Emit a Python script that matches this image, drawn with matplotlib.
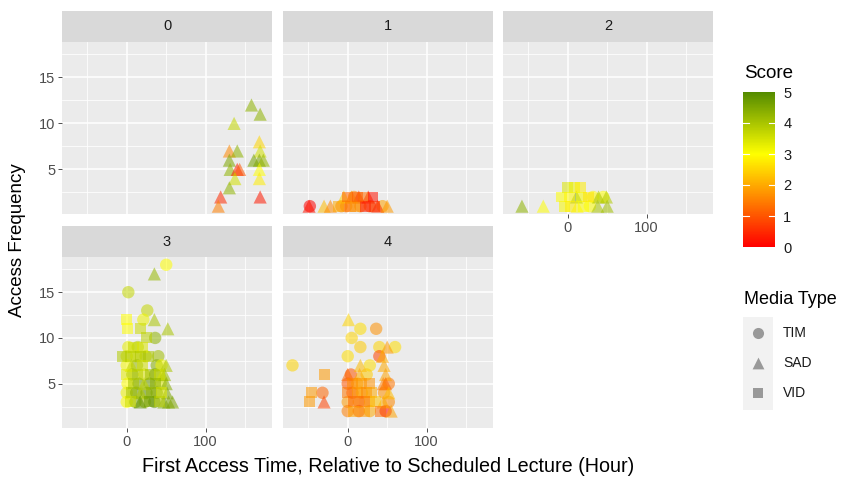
import matplotlib
matplotlib.use('Agg')
import matplotlib.pyplot as plt
from matplotlib.colors import LinearSegmentedColormap, Normalize
from matplotlib.cm import ScalarMappable
from matplotlib.patches import Rectangle

plt.rcParams['font.family'] = ['Liberation Sans', 'DejaVu Sans']

# ---- data: one set of lists per cluster (facet) ----
# cluster 0 (all SAD)
c0_x = [158, 169, 136, 168, 130, 140, 169, 130, 161, 168, 173, 131, 140, 143,
        168, 168, 137, 130, 119, 169, 116]
c0_y = [12, 11, 10, 8, 7, 7, 7, 6, 6, 6, 6, 5, 5, 5, 5, 4, 4, 3, 2, 2, 1]
c0_score = [4.3, 4.3, 3.7, 2.5, 1.6, 4.3, 3.5, 4.5, 4.6, 4.5, 4.2, 4.3, 0.4, 1.0,
            3.0, 2.8, 3.5, 4.3, 0.5, 0.3, 1.5]
c0_media = ["SAD"] * len(c0_x)

# cluster 1
c1_x = [-49, -48, -30, -22, -12, -5, -8, 0, 3, 8, 10, 14, 16, 20, 22, 26, 28,
        32, 34, 38, 5, 44, 50, -2, 12]
c1_y = [1, 1, 1, 1, 1, 2, 1, 2, 1, 2, 1, 2, 1, 2, 1, 2, 1, 2, 1, 1, 2, 1, 1, 1, 2]
c1_score = [0.2, 0.0, 2.2, 1.6, 2.0, 2.4, 1.5, 1.2, 1.4, 1.6, 1.8, 0.6, 1.5, 1.3,
            0.3, 0.4, 1.0, 0.2, 0.6, 0.5, 1.8, 1.9, 1.8, 1.4, 1.1]
c1_media = ["SAD", "TIM", "SAD", "SAD", "VID", "SAD", "TIM", "VID", "VID", "TIM",
            "VID", "SAD", "TIM", "VID", "VID", "SAD", "TIM", "VID", "VID", "SAD",
            "SAD", "TIM", "SAD", "TIM", "VID"]

# cluster 2
c2_x = [-58, -31, -8, -4, 0, 2, 4, 8, 11, 12, 16, 18, 20, 26, 28, 32, 39, 38,
        49, 50, 45]
c2_y = [1, 1, 2, 1, 3, 2, 1, 3, 2, 1, 3, 2, 1, 2, 1, 2, 2, 1, 2, 1, 2]
c2_score = [4.3, 3.0, 3.0, 3.1, 3.4, 2.9, 2.8, 3.2, 4.4, 2.9, 2.8, 3.1, 3.0, 2.7,
            3.0, 2.9, 4.0, 4.0, 3.9, 4.1, 3.0]
c2_media = ["SAD", "SAD", "VID", "VID", "VID", "VID", "VID", "VID", "SAD", "SAD",
            "VID", "VID", "VID", "VID", "TIM", "TIM", "SAD", "SAD", "SAD", "SAD",
            "TIM"]

# cluster 3
c3_x = [50, 35, 2, 26, 35, 0, 21, 52, 18, 1, 36, 25, -6, 28, 40, 45, 58,
        2, 8, 14, 20,
        0, 5, 12, 18, 24,
        0, 6, 13, 20, 38, 44, 50,
        0, 7, 14, 22, 30, 36, 42, 48,
        1, 8, 15, 22, 29, 36, 43, 50,
        0, 6, 12, 18, 25, 31, 38, 44, 51,
        0, 5, 11, 17, 23, 29, 35, 41, 47, 53]
c3_y = [18, 17, 15, 13, 12, 12, 12, 11, 11, 11, 10, 10, 8, 8, 8, 6, 3,
        9, 9, 9, 9,
        8, 8, 8, 8, 8,
        7, 7, 7, 7, 7, 7, 7,
        6, 6, 6, 6, 6, 6, 6, 6,
        5, 5, 5, 5, 5, 5, 5, 5,
        4, 4, 4, 4, 4, 4, 4, 4, 4,
        3, 3, 3, 3, 3, 3, 3, 3, 3, 3]
c3_score = [3.0, 4.2, 3.7, 3.7, 4.0, 3.0, 3.2, 4.0, 3.6, 3.0, 4.3, 3.8, 3.9, 4.0,
            4.1, 3.4, 4.5,
            3.3, 3.6, 3.8, 3.4,
            3.5, 3.9, 3.2, 4.0, 3.6,
            3.1, 3.7, 4.2, 3.5, 4.4, 3.2, 4.0,
            3.3, 4.5, 3.8, 3.4, 4.1, 4.6, 3.6, 4.2,
            3.0, 4.0, 4.6, 3.7, 4.8, 4.3, 3.5, 4.4,
            3.2, 4.1, 4.7, 3.9, 4.9, 4.2, 4.8, 3.4, 4.5,
            3.0, 3.6, 4.4, 4.9, 4.1, 4.7, 4.9, 3.8, 4.6, 4.5]
c3_media = ["TIM", "SAD", "TIM", "TIM", "SAD", "VID", "TIM", "SAD", "VID", "VID",
            "TIM", "VID", "VID", "VID", "TIM", "SAD", "SAD",
            "TIM", "VID", "TIM", "VID",
            "TIM", "VID", "TIM", "VID", "TIM",
            "TIM", "SAD", "TIM", "VID", "TIM", "TIM", "SAD",
            "VID", "TIM", "VID", "TIM", "VID", "TIM", "VID", "SAD",
            "TIM", "VID", "TIM", "SAD", "TIM", "VID", "TIM", "SAD",
            "TIM", "VID", "TIM", "SAD", "TIM", "VID", "TIM", "VID", "SAD",
            "TIM", "VID", "TIM", "SAD", "TIM", "VID", "TIM", "VID", "SAD", "SAD"]

# cluster 4
c4_x = [-70, -30, -46, -49, -32, -30, 1, 16, 36, 5, 16, 40, 50, 60, 0, 40, 44,
        16, 28, 46, 48, 48, 48,
        0, 4, 15, 24,
        0, 6, 12, 18, 27, 45, 52,
        0, 6, 12, 18, 24, 30, 46, 52,
        0, 7, 14, 21, 28, 35, 45, 52,
        0, 7, 14, 21, 28, 42, 55]
c4_y = [7, 6, 4, 3, 4, 3, 12, 11, 11, 10, 9, 9, 9, 9, 8, 8, 8,
        7, 7, 7, 6, 5, 2,
        6, 6, 6, 6,
        5, 5, 5, 5, 5, 5, 5,
        4, 4, 4, 4, 4, 4, 4, 4,
        3, 3, 3, 3, 3, 3, 3, 3,
        2, 2, 2, 2, 2, 2, 2]
c4_score = [2.5, 1.8, 1.8, 1.8, 1.2, 0.8, 2.5, 2.6, 1.7, 2.5, 2.4, 2.5, 1.8, 2.6,
            2.6, 0.8, 2.0, 2.2, 2.6, 2.0, 1.9, 1.2, 0.0,
            1.2, 1.0, 2.0, 2.4,
            1.0, 1.6, 2.0, 1.8, 1.7, 1.5, 1.4,
            1.4, 0.9, 1.8, 2.1, 1.6, 2.0, 1.7, 2.2,
            1.8, 1.2, 1.9, 1.1, 1.8, 2.3, 2.0, 1.6,
            1.5, 1.9, 1.0, 1.8, 2.0, 1.3, 1.9]
c4_media = ["TIM", "VID", "VID", "VID", "TIM", "SAD", "SAD", "TIM", "TIM", "TIM",
            "TIM", "TIM", "SAD", "TIM", "TIM", "TIM", "SAD", "SAD", "TIM", "SAD",
            "SAD", "SAD", "TIM",
            "SAD", "TIM", "SAD", "TIM",
            "TIM", "VID", "TIM", "VID", "VID", "SAD", "TIM",
            "VID", "TIM", "VID", "TIM", "VID", "VID", "TIM", "SAD",
            "TIM", "VID", "TIM", "VID", "VID", "VID", "SAD", "TIM",
            "TIM", "VID", "TIM", "VID", "TIM", "VID", "SAD"]

clusters = [
    (c0_x, c0_y, c0_score, c0_media),
    (c1_x, c1_y, c1_score, c1_media),
    (c2_x, c2_y, c2_score, c2_media),
    (c3_x, c3_y, c3_score, c3_media),
    (c4_x, c4_y, c4_score, c4_media),
]
cluster_labels = ["0", "1", "2", "3", "4"]
media_types = ["TIM", "SAD", "VID"]
score_ticks = [0, 1, 2, 3, 4, 5]

# ---- styling ----
markers = {"TIM": ("o", 80), "SAD": ("^", 90), "VID": ("s", 62)}
cmap = LinearSegmentedColormap.from_list(
    "score", [(0, "#FF0000"), (0.6, "#FFFF00"), (1, "#548B00")])
norm = Normalize(0, 5)

W, H = 846, 478
fig = plt.figure(figsize=(W / 100, H / 100), dpi=100)


def box(l, t, r, b):
    return [l / W, 1 - b / H, (r - l) / W, (b - t) / H]


col_l = [62, 283, 503]
pw = 210
row_t = [42, 257]
row_b = [214, 428]
strip_h = 31

for i, (xs, ys, sc, md) in enumerate(clusters):
    r, c = divmod(i, 3)
    l, t, b = col_l[c], row_t[r], row_b[r]
    ax = fig.add_axes(box(l, t, l + pw, b))
    ax.set_facecolor("#EBEBEB")
    for s in ax.spines.values():
        s.set_visible(False)
    ax.set_xlim(-82, 184)
    ax.set_ylim(0.15, 18.85)
    ax.set_xticks([0, 100])
    ax.set_xticks([-50, 50, 150], minor=True)
    ax.set_yticks([5, 10, 15])
    ax.set_yticks([2.5, 7.5, 12.5, 17.5], minor=True)
    ax.grid(which="major", color="white", lw=1.1)
    ax.grid(which="minor", color="white", lw=0.55)
    ax.set_axisbelow(True)
    ax.tick_params(which="major", length=2.75, width=0.6, color="#333333",
                   labelsize=10.5, labelcolor="#4D4D4D", pad=2)
    ax.tick_params(which="minor", length=0)
    if c != 0:
        ax.tick_params(axis="y", length=0, labelleft=False)
    if i < 2:
        ax.tick_params(axis="x", length=0, labelbottom=False)

    for m in media_types:
        idx = [k for k, v in enumerate(md) if v == m]
        if not idx:
            continue
        mk, size = markers[m]
        ax.scatter([xs[k] for k in idx], [ys[k] for k in idx],
                   c=[sc[k] for k in idx], cmap=cmap, norm=norm,
                   marker=mk, s=size, alpha=0.55, linewidths=0, zorder=3)

    sax = fig.add_axes(box(l, t - strip_h, l + pw, t))
    sax.set_facecolor("#D9D9D9")
    sax.set_xticks([])
    sax.set_yticks([])
    for s in sax.spines.values():
        s.set_visible(False)
    sax.text(0.5, 0.5, cluster_labels[i], ha="center", va="center",
             fontsize=10.5, color="#1A1A1A", transform=sax.transAxes)

# ---- colour bar ----
cax = fig.add_axes(box(743, 92, 775, 247))
cb = fig.colorbar(ScalarMappable(norm=norm, cmap=cmap), cax=cax)
cb.outline.set_visible(False)
cb.set_ticks(score_ticks)
cax.tick_params(length=0, labelsize=10.5, labelcolor="#1A1A1A", pad=6)
for tk in score_ticks[1:-1]:
    cax.axhline(tk, xmin=0, xmax=0.2, color="white", lw=0.8)
    cax.axhline(tk, xmin=0.8, xmax=1, color="white", lw=0.8)

# ---- overlay for titles / labels / shape legend ----
ov = fig.add_axes([0, 0, 1, 1], zorder=-5)
ov.set_xlim(0, W)
ov.set_ylim(H, 0)
ov.axis("off")
ov.text(18, 240, "Access Frequency", rotation=90, ha="center", va="center",
        fontsize=13.5)
ov.text(388, 466, "First Access Time, Relative to Scheduled Lecture (Hour)",
        ha="center", va="center", fontsize=14.2)
ov.text(744, 73, "Score", ha="left", va="center", fontsize=13.5)
ov.text(744, 299, "Media Type", ha="left", va="center", fontsize=13)
ov.add_patch(Rectangle((743, 317), 30, 93, facecolor="#F2F2F2", edgecolor="none"))
for k, m in enumerate(media_types):
    mk, size = markers[m]
    yy = 333 + 30 * k
    ov.scatter([758], [yy], marker=mk, s=size * 0.8, color="#999999",
               linewidths=0)
    ov.text(783, yy, m, ha="left", va="center", fontsize=10, color="#1A1A1A")

fig.savefig("out.png", dpi=100)
